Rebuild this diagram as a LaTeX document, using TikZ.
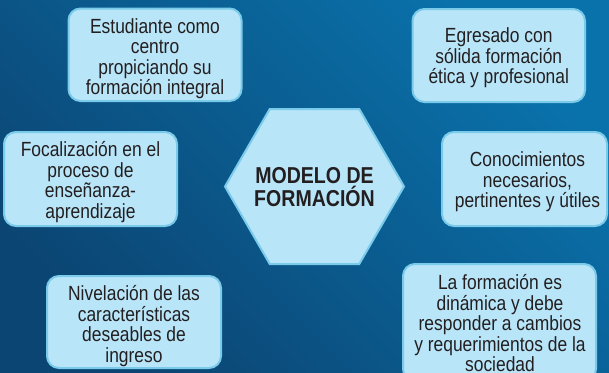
\documentclass[tikz,border=0pt]{standalone}
\usepackage{fontspec}
\setmainfont{Liberation Sans}[FakeStretch=0.85]
\definecolor{bgdark}{HTML}{0B4573}
\definecolor{bglight}{HTML}{0A72AB}
\definecolor{boxfill}{HTML}{B9E5F9}
\definecolor{boxline}{HTML}{7ACBEA}
\definecolor{txt}{HTML}{231F20}
\begin{document}
\begin{tikzpicture}[x=1pt,y=-1pt,
  box/.style={draw=boxline, fill=boxfill, line width=2pt, rounded corners=12pt, inner sep=0pt},
  boxtext/.style={text=txt, align=center, font=\fontsize{20.5}{20.5}\selectfont, inner sep=0pt},
  hexline/.style={draw=boxline, fill=boxfill, line width=2pt, line join=miter},
  hexa/.style={text=txt, align=center, inner sep=0pt, font=\bfseries\fontsize{23}{23}\selectfont}]
\useasboundingbox (0,0) rectangle (609,372);
\shade[top color=bglight, bottom color=bgdark, shading angle=-45] (0,0) rectangle (609,372);
% boxes
\node[box, minimum width=173pt, minimum height=92.5pt] (b1) at (155,54.75) {};
\node[box, minimum width=172.5pt, minimum height=93pt] (b2) at (498.75,55.5) {};
\node[box, minimum width=173pt, minimum height=94pt] (b3) at (90.5,179) {};
\node[box, minimum width=165pt, minimum height=94pt] (b4) at (524.5,179) {};
\node[box, minimum width=174pt, minimum height=92pt] (b5) at (134,322) {};
\node[box, minimum width=193pt, minimum height=117pt] (b6) at (499.5,322.5) {};
% texts
\node[boxtext] (t1) at (155,58.5) {Estudiante como\\centro\\propiciando su\\formación integral};
\node[boxtext] (t2) at (498.75,58) {Egresado con\\sólida formación\\ética y profesional};
\node[boxtext] (t3) at (90.5,182) {Focalización en el\\proceso de\\enseñanza-\\aprendizaje};
\node[boxtext] (t4) at (527.5,182) {Conocimientos\\necesarios,\\pertinentes y útiles};
\node[boxtext] (t5) at (134,326) {Nivelación de las\\características\\deseables de\\ingreso};
\node[boxtext] (t6) at (500,323.5) {La formación es\\dinámica y debe\\responder a cambios\\y requerimientos de la\\sociedad};
% central hexagon
\path[hexline] (225,186.5) -- (269.75,109) -- (359.25,109) -- (404,186.5)
  -- (359.25,264) -- (269.75,264) -- cycle;
\node[hexa] (h) at (314.5,187) {MODELO DE\\FORMACIÓN};
\end{tikzpicture}
\end{document}
